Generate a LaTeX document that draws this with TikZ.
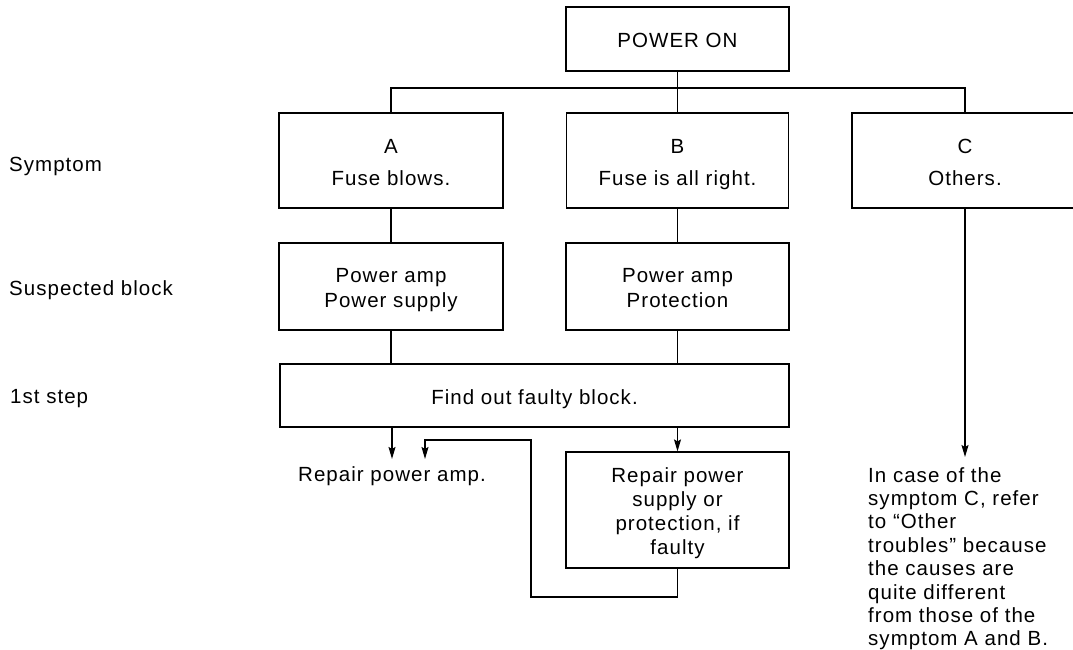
\documentclass[tikz,border=0pt]{standalone}
\usepackage{fontspec}
\setmainfont{Liberation Sans}[LetterSpace=5]
\usetikzlibrary{arrows.meta}
\newcommand\tstrut{\rule{0pt}{22pt}}
\newcommand\bstrut{\rule[-5pt]{0pt}{5pt}}
\begin{document}
\begin{tikzpicture}[x=1pt,y=-1pt,
  every node/.style={font=\fontsize{20.5}{24}\selectfont},
  box/.style={draw,line width=1.2pt,inner sep=0pt,align=center},
  lbl/.style={anchor=base west,inner sep=0pt},
  conn/.style={line width=1.2pt},
  arr/.style={conn,-{Stealth[length=12pt,width=7pt,inset=2pt]}}]
\clip (0,0) rectangle (1073,650);
\fill[white] (0,0) rectangle (1073,650);
% left labels
\node[lbl] (l1) at (9,171) {Symptom};
\node[lbl] (l2) at (9,295) {Suspected block};
\node[lbl] (l3) at (10,403) {1st step};
% boxes
\node[box,minimum width=223pt,minimum height=64pt] (pwr) at (677.5,39) {\tstrut POWER ON\bstrut};
\node[box,minimum width=224pt,minimum height=95pt] (A) at (391,160.5) {\tstrut A\\[8pt]Fuse blows.\bstrut};
\node[box,minimum width=222pt,minimum height=95pt] (B) at (677.5,160.5) {\tstrut B\\[8pt]Fuse is all right.\bstrut};
\node[box,minimum width=226pt,minimum height=95pt] (C) at (965,160.5) {\tstrut C\\[8pt]Others.\bstrut};
\node[box,minimum width=224pt,minimum height=87pt] (PA) at (391,286.5) {\tstrut Power amp\\[1pt]Power supply\bstrut};
\node[box,minimum width=223pt,minimum height=87pt] (PB) at (677.5,286.5) {\tstrut Power amp\\[1pt]Protection\bstrut};
\node[box,minimum width=509pt,minimum height=63pt] (F) at (534.5,395.5) {\tstrut Find out faulty block.\bstrut};
\node[box,minimum width=223pt,minimum height=116pt] (RB) at (677.5,510) {\tstrut Repair power\\supply or\\protection, if\\faulty\bstrut};
\node[anchor=base,inner sep=7pt] (ramp) at (392,481) {Repair power amp.};
\node[anchor=north west,inner xsep=0pt,inner ysep=10pt,align=left,
      font=\fontsize{20.5}{23.4}\selectfont] (ct) at (868,457)
  {In case of the\\symptom C, refer\\to ``Other\\troubles'' because\\the causes are\\quite different\\from those of the\\symptom A and B.};
% bus
\coordinate (bus) at (677.5,88);
\draw[conn] (pwr.south) -- (B.north);
\draw[conn] (A.north) -- (A.north |- bus) -- (C.north |- bus) -- (C.north);
\draw[conn] (A.south) -- (PA.north);
\draw[conn] (B.south) -- (PB.north);
\draw[conn] (PA.south) -- (PA.south |- F.north);
\draw[conn] (PB.south) -- (PB.south |- F.north);
\draw[arr] (F.south -| ramp.north) -- (ramp.north);
\draw[arr] (F.south -| RB.north) -- (RB.north);
\draw[arr] (C.south) -- (C.south |- ct.north);
% feedback
\coordinate (fb1) at (531,597);
\coordinate (fb2) at (425,440);
\draw[arr] (RB.south) |- (fb1) |- (fb2) -- (fb2 |- ramp.north);
\end{tikzpicture}
\end{document}
